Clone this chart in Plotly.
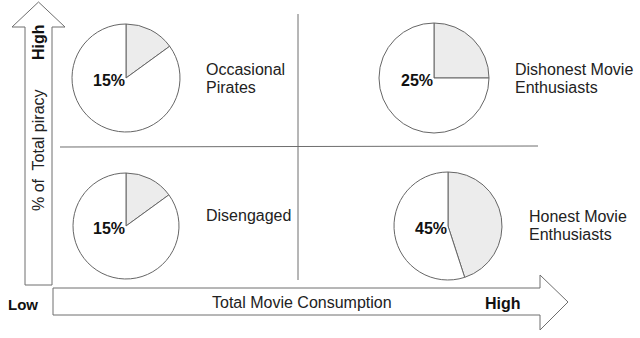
import plotly.graph_objects as go

# ---- data ----
segments = ["Occasional Pirates", "Dishonest Movie Enthusiasts", "Disengaged", "Honest Movie Enthusiasts"]
segment_label_lines = [["Occasional", "Pirates"], ["Dishonest Movie", "Enthusiasts"], ["Disengaged"], ["Honest Movie", "Enthusiasts"]]
piracy_share = [15, 25, 15, 45]
y_axis_title = "% of  Total piracy"
x_axis_title = "Total Movie Consumption"
low_label = "Low"
high_label = "High"

W, H = 640, 338
FONT = "Arial, Liberation Sans, sans-serif"
LINE = "#6e6e6e"

# layout positions (pixel space) for each quadrant
pie_centers = [(126, 78), (434, 78), (126, 226), (448, 226)]
pie_radius = [54, 55, 53, 54]
label_first_line = [(204, 69), (513, 69), (204, 215), (527, 216)]
LINE_STEP = 18

fig = go.Figure()

for (cx, cy), r, v in zip(pie_centers, pie_radius, piracy_share):
    fig.add_trace(go.Pie(
        values=[v, 100 - v],
        sort=False,
        direction="clockwise",
        rotation=0,
        textinfo="none",
        hoverinfo="skip",
        showlegend=False,
        marker=dict(colors=["#ececec", "#ffffff"], line=dict(color="#666666", width=1)),
        domain=dict(x=[(cx - r) / W, (cx + r) / W], y=[1 - (cy + r) / H, 1 - (cy - r) / H]),
    ))

annotations = []
for (cx, cy), v in zip(pie_centers, piracy_share):
    annotations.append(dict(x=cx + 1, y=cy + 2, xref="x", yref="y", text=f"<b>{v}%</b>",
                            showarrow=False, xanchor="right", yanchor="middle",
                            font=dict(family=FONT, size=16, color="#111111")))
for (lx, ly), lines in zip(label_first_line, segment_label_lines):
    for i, t in enumerate(lines):
        annotations.append(dict(x=lx, y=ly + i * LINE_STEP, xref="x", yref="y", text=t, showarrow=False,
                                xanchor="left", yanchor="middle", align="left",
                                font=dict(family=FONT, size=16, color="#222222")))

annotations += [
    dict(x=38, y=42, xref="x", yref="y", text=f"<b>{high_label}</b>", textangle=-90, showarrow=False,
         font=dict(family=FONT, size=16, color="#111111")),
    dict(x=38, y=150, xref="x", yref="y", text=y_axis_title, textangle=-90, showarrow=False,
         font=dict(family=FONT, size=16, color="#222222")),
    dict(x=23, y=304, xref="x", yref="y", text=f"<b>{low_label}</b>", showarrow=False,
         font=dict(family=FONT, size=15, color="#111111")),
    dict(x=302, y=302, xref="x", yref="y", text=x_axis_title, showarrow=False,
         font=dict(family=FONT, size=16, color="#222222")),
    dict(x=503, y=303, xref="x", yref="y", text=f"<b>{high_label}</b>", showarrow=False,
         font=dict(family=FONT, size=16, color="#111111")),
]

shapes = [
    # up arrow
    dict(type="path", xref="x", yref="y",
         path="M25,285 L25,27 L12,27 L38.5,2 L65,27 L52,27 L52,285 Z",
         line=dict(color=LINE, width=1), fillcolor="white"),
    # right arrow
    dict(type="path", xref="x", yref="y",
         path="M53,288 L540,288 L540,275 L568,302 L540,330 L540,315 L53,315 Z",
         line=dict(color=LINE, width=1), fillcolor="white"),
    # quadrant dividers
    dict(type="line", xref="x", yref="y", x0=298, x1=298, y0=14, y1=280,
         line=dict(color=LINE, width=1)),
    dict(type="line", xref="x", yref="y", x0=60, x1=538, y0=147, y1=146,
         line=dict(color=LINE, width=1)),
]

fig.update_layout(
    width=W, height=H,
    margin=dict(l=0, r=0, t=0, b=0),
    paper_bgcolor="white", plot_bgcolor="white",
    xaxis=dict(range=[0, W], visible=False, fixedrange=True),
    yaxis=dict(range=[H, 0], visible=False, fixedrange=True),
    shapes=shapes,
    annotations=annotations,
    showlegend=False,
)

fig.write_html("out.html", config={"displayModeBar": False, "staticPlot": True},
               post_script="document.body.style.margin='0';document.body.style.overflow='hidden';")
